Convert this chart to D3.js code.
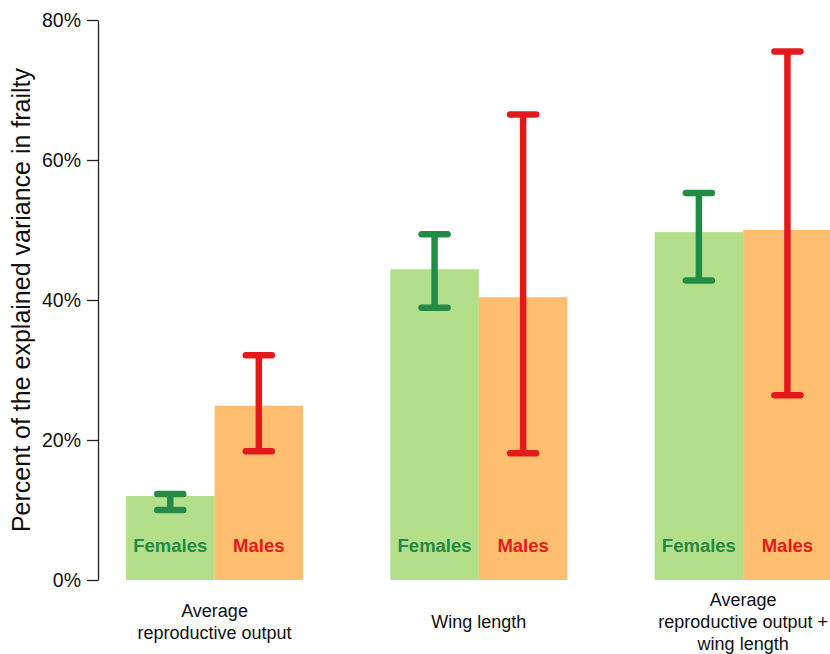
<!DOCTYPE html>
<html>
<head>
<meta charset="utf-8">
<script src="https://cdn.jsdelivr.net/npm/d3@7"></script>
<style>
  html, body { margin: 0; padding: 0; background: #fff; }
  svg { display: block; font-family: "Liberation Sans", Arial, sans-serif; }
</style>
</head>
<body>
<svg id="chart" width="830" height="654"></svg>
<script>
// Predictor groups (multi-line labels) and sexes
const groups = ["ARO", "WL", "ARO+WL"];
const groupLabels = [
  ["Average", "reproductive output"],
  ["Wing length"],
  ["Average", "reproductive output +", "wing length"]
];
const sexes = ["Females", "Males"];

// Percent of explained variance, with interval bounds
const femaleValues = [12.0, 44.4, 49.7];
const femaleLow    = [10.0, 38.9, 42.8];
const femaleHigh   = [12.3, 49.4, 55.3];
const maleValues   = [24.9, 40.4, 50.0];
const maleLow      = [18.4, 18.1, 26.4];
const maleHigh     = [32.1, 66.5, 75.5];

const yTicks = [0, 20, 40, 60, 80];

const barColors  = { Females: "#b3df8b", Males: "#fdbe70" };
const markColors = { Females: "#238b45", Males: "#e31a1c" };

const svg = d3.select("#chart");

const y = d3.scaleLinear().domain([0, 80]).range([580, 20]);

const x = d3.scaleBand()
  .domain(groups)
  .range([126, 831.7])
  .paddingInner(0.33)
  .paddingOuter(0);

const xs = d3.scaleBand().domain(sexes).range([0, x.bandwidth()]);

const rows = [];
groups.forEach((g, i) => {
  rows.push({ group: g, sex: "Females", v: femaleValues[i], lo: femaleLow[i], hi: femaleHigh[i] });
  rows.push({ group: g, sex: "Males", v: maleValues[i], lo: maleLow[i], hi: maleHigh[i] });
});

// Bars
svg.append("g").selectAll("rect")
  .data(rows)
  .join("rect")
  .attr("x", d => x(d.group) + xs(d.sex))
  .attr("width", xs.bandwidth())
  .attr("y", d => y(d.v))
  .attr("height", d => y(0) - y(d.v))
  .attr("fill", d => barColors[d.sex]);

// Sex labels inside bars
svg.append("g").selectAll("text")
  .data(rows)
  .join("text")
  .attr("x", d => x(d.group) + xs(d.sex) + xs.bandwidth() / 2)
  .attr("y", 552)
  .attr("text-anchor", "middle")
  .attr("font-size", 18.5)
  .attr("font-weight", "bold")
  .attr("fill", d => markColors[d.sex])
  .text(d => d.sex);

// Interval bars
const capHalf = 13;
const eb = svg.append("g")
  .attr("stroke-width", 6.5)
  .attr("stroke-linecap", "round")
  .attr("fill", "none");

rows.forEach(d => {
  const cx = x(d.group) + xs(d.sex) + xs.bandwidth() / 2;
  const g = eb.append("g").attr("stroke", markColors[d.sex]);
  g.append("line").attr("x1", cx).attr("x2", cx).attr("y1", y(d.lo)).attr("y2", y(d.hi)).attr("stroke-linecap", "butt");
  g.append("line").attr("x1", cx - capHalf).attr("x2", cx + capHalf).attr("y1", y(d.hi)).attr("y2", y(d.hi));
  g.append("line").attr("x1", cx - capHalf).attr("x2", cx + capHalf).attr("y1", y(d.lo)).attr("y2", y(d.lo));
});

// Y axis
const yAxis = svg.append("g")
  .attr("transform", "translate(98,0)")
  .call(d3.axisLeft(y).tickValues(yTicks).tickFormat(d => d + "%").tickSize(11).tickSizeOuter(0).tickPadding(6));
yAxis.select(".domain").attr("stroke", "#222").attr("stroke-width", 1.3);
yAxis.selectAll(".tick line").attr("stroke", "#222").attr("stroke-width", 1.3);
yAxis.selectAll(".tick text")
  .attr("font-size", 19.5)
  .attr("font-family", "Liberation Sans, Arial, sans-serif")
  .attr("fill", "#111");

// Y title
svg.append("text")
  .attr("transform", "translate(30,300) rotate(-90)")
  .attr("text-anchor", "middle")
  .attr("font-size", 25)
  .attr("fill", "#111")
  .text("Percent of the explained variance in frailty");

// Category labels
const lineH = 22;
groups.forEach((g, i) => {
  const lines = groupLabels[i];
  const cx = x(g) + x.bandwidth() / 2;
  const top = 622 - (lines.length - 1) * lineH / 2;
  const t = svg.append("text")
    .attr("text-anchor", "middle")
    .attr("font-size", 18)
    .attr("fill", "#111");
  lines.forEach((ln, k) => {
    t.append("tspan").attr("x", cx).attr("y", top + k * lineH + 6).text(ln);
  });
});
</script>
</body>
</html>
